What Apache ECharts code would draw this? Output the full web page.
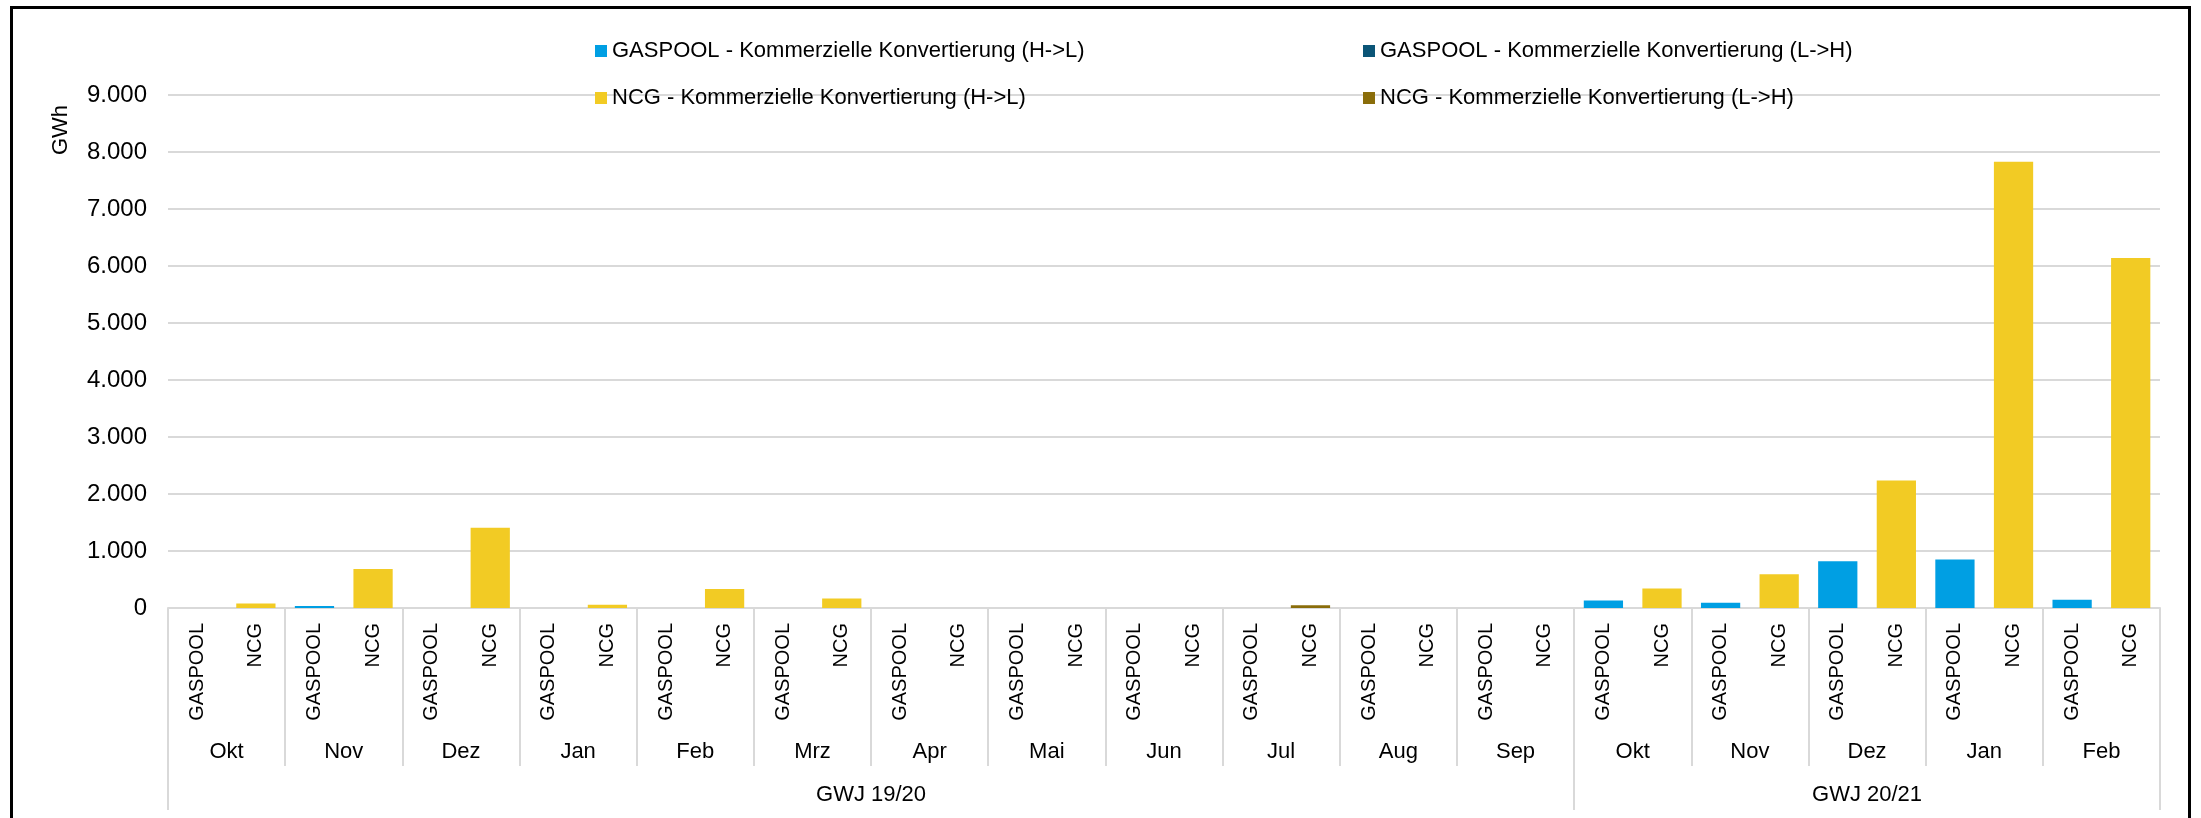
<!DOCTYPE html>
<html>
<head>
<meta charset="utf-8">
<script src="https://cdn.jsdelivr.net/npm/echarts@6/dist/echarts.min.js"></script>
<style>
  html, body { margin: 0; padding: 0; background: #fff; overflow: hidden; }
  #chart { position: absolute; left: 0; top: 0; width: 2201px; height: 818px; }
  #frame { position: absolute; left: 10px; top: 6px; width: 2175px; height: 840px;
           border: 3px solid #000; pointer-events: none; }
</style>
</head>
<body>
<div id="chart"></div>
<div id="frame"></div>
<script>
var months = ['Okt', 'Nov', 'Dez', 'Jan', 'Feb', 'Mrz', 'Apr', 'Mai', 'Jun', 'Jul', 'Aug', 'Sep',
              'Okt', 'Nov', 'Dez', 'Jan', 'Feb'];
var hubs = ['GASPOOL', 'NCG'];
var years = ['GWJ 19/20', 'GWJ 20/21'];
var yearMonthCounts = [12, 5];

var seriesNames = [
  'GASPOOL - Kommerzielle Konvertierung (H->L)',
  'GASPOOL - Kommerzielle Konvertierung (L->H)',
  'NCG - Kommerzielle Konvertierung (H->L)',
  'NCG - Kommerzielle Konvertierung (L->H)'
];

// GWh per month
var gaspoolHL = [0, 35, 0, 0, 0, 0, 0, 0, 0, 0, 0, 0, 130, 90, 820, 850, 145];
var gaspoolLH = [0, 0, 0, 0, 0, 0, 0, 0, 0, 0, 0, 0, 0, 0, 0, 0, 0];
var ncgHL = [80, 685, 1410, 58, 333, 165, 0, 0, 0, 0, 0, 0, 340, 590, 2235, 7830, 6140];
var ncgLH = [0, 0, 0, 0, 0, 0, 0, 0, 0, 50, 0, 0, 0, 0, 0, 0, 0];

var yTicks = { min: 0, max: 9000, step: 1000 };

var colors = ['#009FE3', '#0B5577', '#F2CB24', '#8A6D0A'];

// build 34 categories (hub within month)
var cats = [];
months.forEach(function() { hubs.forEach(function(h) { cats.push(h); }); });

function spread(arr, hubIdx) {
  var out = [];
  arr.forEach(function(v) {
    for (var k = 0; k < hubs.length; k++) out.push(k === hubIdx ? v : null);
  });
  return out;
}
var seriesData = [spread(gaspoolHL, 0), spread(gaspoolLH, 0), spread(ncgHL, 1), spread(ncgLH, 1)];

// year axis positions (in month units)
var yearBounds = [0], yearCenters = [];
yearMonthCounts.forEach(function(n, i) {
  yearCenters.push(yearBounds[i] + n / 2);
  yearBounds.push(yearBounds[i] + n);
});

function fmtDE(v) { return String(v).replace(/\B(?=(\d{3})+(?!\d))/g, '.'); }

var font = 'Liberation Sans';
var grey = '#d9d9d9';

var chart = echarts.init(document.getElementById('chart'), null, { renderer: 'canvas' });
chart.setOption({
  animation: false,
  textStyle: { fontFamily: font },
  legend: [
    {
      orient: 'vertical', left: 590, top: 35, itemWidth: 12, itemHeight: 12, itemGap: 25,
      icon: 'rect',
      textStyle: { fontFamily: font, fontSize: 22, color: '#000' },
      data: [seriesNames[0], seriesNames[2]]
    },
    {
      orient: 'vertical', left: 1358, top: 35, itemWidth: 12, itemHeight: 12, itemGap: 25,
      icon: 'rect',
      textStyle: { fontFamily: font, fontSize: 22, color: '#000' },
      data: [seriesNames[1], seriesNames[3]]
    }
  ],
  grid: { left: 168, right: 41, top: 95, bottom: 210 },
  xAxis: [
    {
      type: 'category',
      data: cats,
      position: 'bottom',
      axisLine: { lineStyle: { color: grey, width: 2 } },
      axisTick: { show: false },
      axisLabel: { rotate: 90, fontSize: 20, color: '#000', margin: 15, interval: 0, fontFamily: font }
    },
    {
      type: 'category',
      data: months,
      position: 'bottom',
      axisLine: { show: false },
      axisTick: { show: true, length: 158, interval: 0, lineStyle: { color: grey, width: 2 } },
      axisLabel: { fontSize: 22, color: '#000', margin: 133, interval: 0, fontFamily: font }
    },
    {
      type: 'value',
      min: 0,
      max: months.length,
      position: 'bottom',
      axisLine: { show: false },
      splitLine: { show: false },
      axisTick: { show: true, length: 202, customValues: yearBounds, lineStyle: { color: grey, width: 2 } },
      axisLabel: {
        fontSize: 22, color: '#000', margin: 176, fontFamily: font,
        customValues: yearCenters,
        formatter: function(v) { return years[yearCenters.indexOf(v)]; }
      }
    }
  ],
  yAxis: {
    type: 'value',
    min: yTicks.min,
    max: yTicks.max,
    interval: yTicks.step,
    name: 'GWh',
    nameLocation: 'end',
    nameRotate: 90,
    nameGap: -35,
    nameTextStyle: { fontSize: 22, color: '#000', align: 'center', verticalAlign: 'bottom', padding: [0, 0, 96, 0], fontFamily: font },
    axisLine: { show: false },
    axisTick: { show: false },
    axisLabel: { fontSize: 24, color: '#000', margin: 21, formatter: fmtDE, fontFamily: font },
    splitLine: { lineStyle: { color: grey, width: 2 } }
  },
  series: seriesNames.map(function(name, i) {
    return {
      name: name,
      type: 'bar',
      stack: 'total',
      xAxisIndex: 0,
      barWidth: '67%',
      itemStyle: { color: colors[i] },
      data: seriesData[i]
    };
  })
});
</script>
</body>
</html>
